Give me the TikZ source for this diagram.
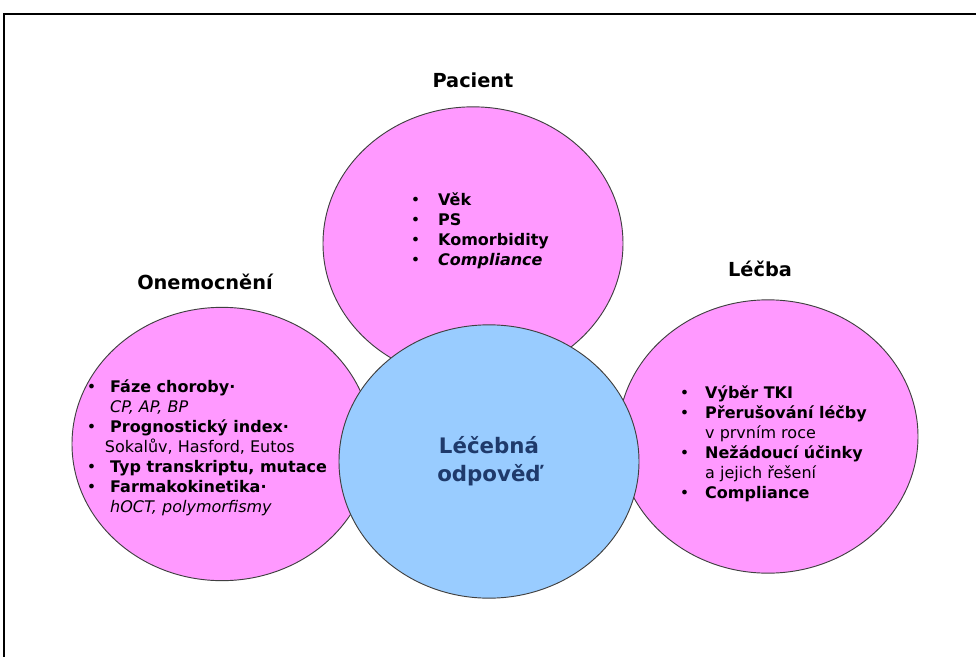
\documentclass[tikz,border=0pt]{standalone}
\usepackage{fontspec}
\setmainfont{DejaVu Sans}
\usetikzlibrary{shapes.geometric}
\definecolor{factorpink}{HTML}{FF99FF}
\definecolor{responseblue}{HTML}{99CCFF}
\definecolor{responsenavy}{HTML}{1F3A6B}
\tikzset{
    factor/.style={ellipse, draw=black!75, line width=0.7pt, fill=factorpink,
        minimum width=225pt, minimum height=205pt, inner sep=0pt},
    response/.style={factor, fill=responseblue, align=center, text=responsenavy,
        font=\fontsize{16}{21}\selectfont\bfseries},
    heading/.style={anchor=base, inner sep=0pt, font=\fontsize{14.5}{17}\selectfont\bfseries},
    itemlist/.style={anchor=base west, inner sep=0pt, font=\fontsize{12}{15}\selectfont},
}
\begin{document}
\begin{tikzpicture}[x=0.75pt, y=-0.75pt]
        % Page and frame
        \useasboundingbox (0,0) rectangle (976,657);
        \draw[line width=1.3pt] (4,657) -- (4,14) -- (976,14);
        % Three factor ellipses
        \node[factor] (pac) at (473,243.5) {};
        \node[factor] (one) at (222,444) {};
        \node[factor] (lec) at (768,436.5) {};
        % Response in the middle
        \node[response] (odp) at (489,461.5) {Léčebná\\odpověď};
        % Headings
        \node[heading] (pacT) at (473,87) {Pacient};
        \node[heading] (oneT) at (205,289) {Onemocnění};
        \node[heading] (lecT) at (760,276) {Léčba};
        % Pacient items
        \node[itemlist] (pacL) at (410.5,205) {%
            \begin{tabular}[t]{@{}l@{\hspace{13.5pt}}l@{}}
                \textbullet & \textbf{Věk}\\
                \textbullet & \textbf{PS}\\
                \textbullet & \textbf{Komorbidity}\\
                \textbullet & \textbf{\textit{Compliance}}
            \end{tabular}};
        % Onemocneni items
        \node[itemlist] (oneL) at (86.5,392) {%
            \begin{tabular}[t]{@{}l@{\hspace{10.5pt}}l@{}}
                \textbullet & \textbf{Fáze choroby·}\\
                & \textit{CP, AP, BP}\\
                \textbullet & \textbf{Prognostický index·}\\
                & \hspace{-4pt}Sokalův, Hasford, Eutos\\
                \textbullet & \textbf{Typ transkriptu, mutace}\\
                \textbullet & \textbf{Farmakokinetika·}\\
                & \textit{hOCT, polymorfismy}
            \end{tabular}};
        % Lecba items
        \node[itemlist] (lecL) at (679.5,398) {%
            \begin{tabular}[t]{@{}l@{\hspace{12pt}}l@{}}
                \textbullet & \textbf{Výběr TKI}\\
                \textbullet & \textbf{Přerušování léčby}\\
                & v prvním roce\\
                \textbullet & \textbf{Nežádoucí účinky}\\
                & a jejich řešení\\
                \textbullet & \textbf{Compliance}
            \end{tabular}};
\end{tikzpicture}
\end{document}
